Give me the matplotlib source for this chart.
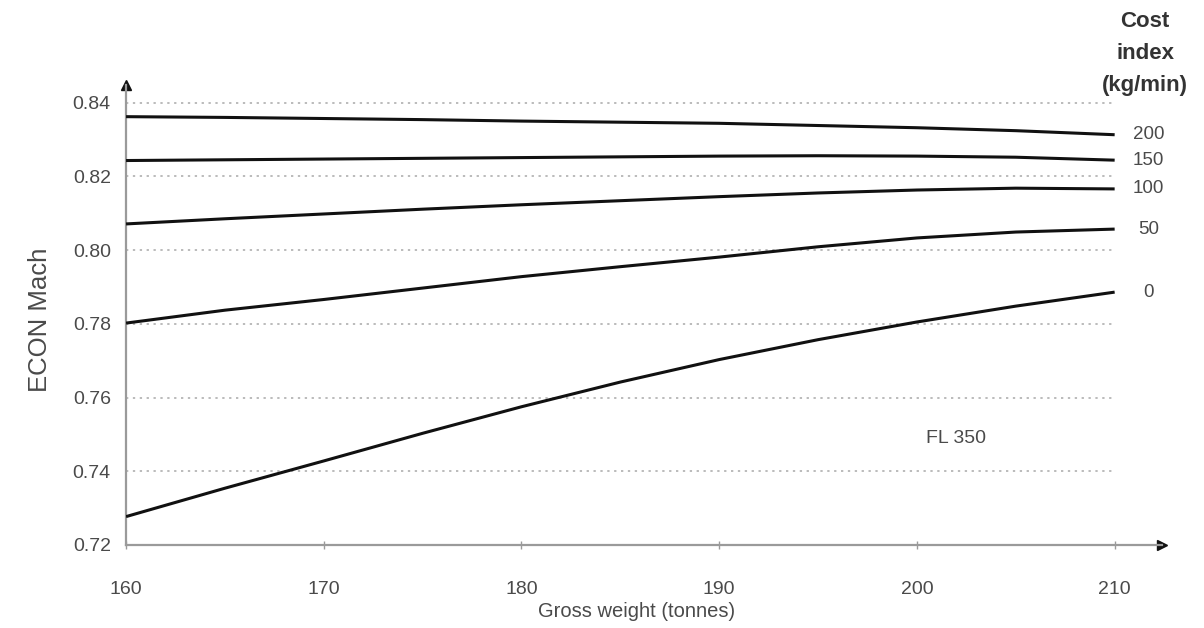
import matplotlib
matplotlib.use("Agg")
import matplotlib.pyplot as plt

plt.rcParams['font.family'] = ['Liberation Sans', 'DejaVu Sans']

# gross weight (tonnes) and ECON Mach for each cost index
weight = [160, 165, 170, 175, 180, 185, 190, 195, 200, 205, 210]
ci_labels = ['200', '150', '100', '50', '0']
mach_ci200 = [0.8362, 0.8360, 0.8357, 0.8354, 0.8350, 0.8347, 0.8344, 0.8338, 0.8332, 0.8324, 0.8313]
mach_ci150 = [0.8243, 0.8245, 0.8247, 0.8249, 0.8251, 0.8253, 0.8255, 0.8256, 0.8255, 0.8252, 0.8244]
mach_ci100 = [0.8071, 0.8085, 0.8098, 0.8111, 0.8123, 0.8134, 0.8145, 0.8155, 0.8163, 0.8168, 0.8166]
mach_ci50 = [0.7802, 0.7837, 0.7866, 0.7897, 0.7928, 0.7955, 0.7981, 0.8009, 0.8033, 0.8049, 0.8057]
mach_ci0 = [0.7277, 0.7354, 0.7428, 0.7503, 0.7575, 0.7642, 0.7703, 0.7757, 0.7805, 0.7848, 0.7886]
x_ticks = [160, 170, 180, 190, 200, 210]
y_ticks = [0.72, 0.74, 0.76, 0.78, 0.80, 0.82, 0.84]

series = [mach_ci200, mach_ci150, mach_ci100, mach_ci50, mach_ci0]
txt = '#4a4a4a'
axis_col = '#9a9a9a'

fig = plt.figure(figsize=(12.04, 6.28), dpi=100)
ax = fig.add_axes([0.1047, 0.1322, 0.8605, 0.7325])
ax.set_xlim(160, 212.4)
ax.set_ylim(0.72, 0.8448)

# dotted grid lines, only over the data range
ax.hlines(y_ticks[1:], 160, 210, colors='#a8a8a8', linewidth=1.1,
          linestyles=(0, (1.5, 3)), zorder=1)

for vals, lab in zip(series, ci_labels):
    ax.plot(weight, vals, color='#111111', linewidth=2.2, zorder=3,
            solid_capstyle='butt', solid_joinstyle='round')
    ax.text(211.7, vals[-1], lab, ha='center', va='center', fontsize=13.5, color=txt)

# axes with arrow heads
for s in ['top', 'right']:
    ax.spines[s].set_visible(False)
for s in ['left', 'bottom']:
    ax.spines[s].set_color(axis_col)
    ax.spines[s].set_linewidth(1.6)
ax.plot(1, 0, '>', color='#111111', markersize=7, transform=ax.transAxes, clip_on=False)
ax.plot(0, 1, '^', color='#111111', markersize=7, transform=ax.transAxes, clip_on=False)

ax.set_xticks(x_ticks)
ax.set_yticks(y_ticks)
ax.set_yticklabels([f'{v:.2f}' for v in y_ticks])
ax.tick_params(axis='x', direction='inout', length=6, color=axis_col, width=1,
               pad=23, labelsize=14, labelcolor=txt)
ax.tick_params(axis='y', length=0, pad=11, labelsize=14, labelcolor=txt)

ax.set_xlabel('Gross weight (tonnes)', fontsize=14.5, color=txt)
ax.xaxis.set_label_coords(0.493, -0.125)
ax.set_ylabel('ECON Mach', fontsize=18.5, color=txt)
ax.yaxis.set_label_coords(-0.071, 0.489)

ax.text(202.0, 0.749, 'FL 350', ha='center', va='center', fontsize=14, color=txt)
ax.text(0.9836, 1.16, 'Cost\nindex\n(kg/min)', transform=ax.transAxes,
        ha='center', va='top', fontsize=16, fontweight='bold', color='#333333',
        linespacing=1.68)

fig.savefig('out.png', dpi=100)
